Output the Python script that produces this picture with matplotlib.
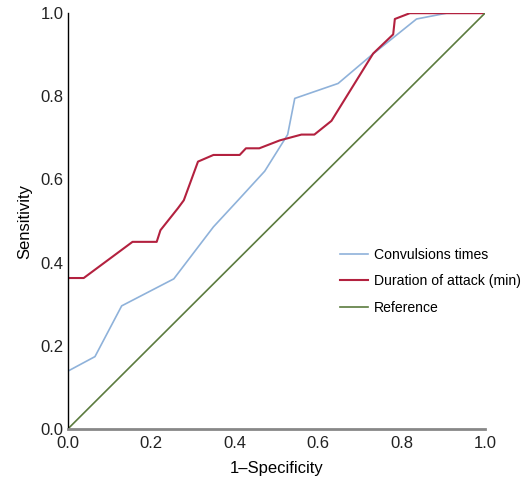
import matplotlib.pyplot as plt

# ROC curve points
conv_x = [0.0, 0.0, 0.065, 0.129, 0.254, 0.349, 0.408, 0.472, 0.527, 0.544, 0.648, 0.728, 0.836, 0.908, 1.0]
conv_y = [0.0, 0.139, 0.174, 0.296, 0.361, 0.486, 0.55, 0.62, 0.708, 0.795, 0.831, 0.899, 0.986, 1.0, 1.0]

dur_x = [0.0, 0.0, 0.038, 0.155, 0.213, 0.222, 0.264, 0.278, 0.312, 0.349, 0.412, 0.427, 0.459, 0.508,
         0.560, 0.591, 0.632, 0.732, 0.780, 0.784, 0.820, 1.0]
dur_y = [0.0, 0.363, 0.363, 0.45, 0.45, 0.478, 0.531, 0.55, 0.643, 0.659, 0.659, 0.675, 0.675, 0.694,
         0.708, 0.708, 0.741, 0.903, 0.949, 0.986, 1.0, 1.0]

ref_x = [0.0, 1.0]
ref_y = [0.0, 1.0]

plt.rcParams['font.family'] = ['Liberation Sans', 'DejaVu Sans']

fig = plt.figure(figsize=(5.22, 4.88), dpi=100)
ax = fig.add_axes([0.130, 0.121, 0.799, 0.852])

ax.plot(conv_x, conv_y, color='#8fb2da', lw=1.2, label='Convulsions times')
ax.plot(dur_x, dur_y, color='#b3213f', lw=1.5, label='Duration of attack (min)')
ax.plot(ref_x, ref_y, color='#5b7b3e', lw=1.2, label='Reference')

ax.set_xlim(0, 1)
ax.set_ylim(0, 1)
ax.set_xticks([0, 0.2, 0.4, 0.6, 0.8, 1.0])
ax.set_yticks([0, 0.2, 0.4, 0.6, 0.8, 1.0])
ax.set_xticklabels(['0.0', '0.2', '0.4', '0.6', '0.8', '1.0'])
ax.set_yticklabels(['0.0', '0.2', '0.4', '0.6', '0.8', '1.0'])
ax.tick_params(length=0, labelsize=12, pad=3, colors='#222222')
ax.tick_params(axis='x', pad=5)

ax.spines['top'].set_visible(False)
ax.spines['right'].set_visible(False)
ax.spines['left'].set_color('black')
ax.spines['left'].set_linewidth(1.0)
ax.spines['bottom'].set_color('#888888')
ax.spines['bottom'].set_linewidth(2.0)

ax.set_xlabel('1\u2013Specificity', fontsize=12, labelpad=7)
ax.set_ylabel('Sensitivity', fontsize=12, labelpad=6)

ax.legend(loc='center left', bbox_to_anchor=(0.622, 0.355), frameon=False, fontsize=10.1,
          handlelength=2.0, labelspacing=0.9, handletextpad=0.4)

fig.savefig('out.png', dpi=100)
